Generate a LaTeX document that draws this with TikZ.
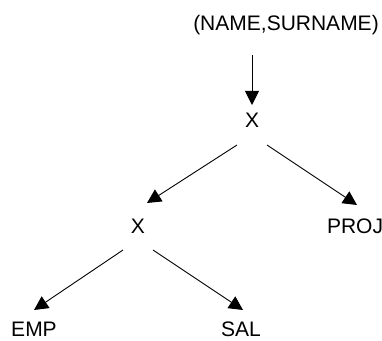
\documentclass[tikz,border=0pt]{standalone}
\usepackage{fontspec}
\setmainfont{Liberation Sans}
\usetikzlibrary{arrows.meta}
\begin{document}
\begin{tikzpicture}[x=1pt,y=1pt,
  lbl/.style={anchor=base,inner sep=0pt,font=\fontsize{21}{25}\selectfont},
  arr/.style={line width=0.9pt,-{Triangle[length=14pt,width=14pt]}}]
  \useasboundingbox (0,0) rectangle (382,340);
  % node labels
  \node[lbl] (proj0) at (286,309) {(NAME,SURNAME)};
  \node[lbl] (x1)    at (252,212) {X};
  \node[lbl] (x2)    at (138,107) {X};
  \node[lbl] (proj)  at (355,107) {PROJ};
  \node[lbl] (emp)   at (34,4)    {EMP};
  \node[lbl] (sal)   at (241,4)   {SAL};
  % connectors
  \draw[arr] ([xshift=-34pt,yshift=-24pt]proj0.base) -- ([yshift=23pt]x1.base);
  \draw[arr] ([xshift=-15pt,yshift=-17pt]x1.base) -- ([xshift=9pt,yshift=30pt]x2.base);
  \draw[arr] ([xshift=15pt,yshift=-17pt]x1.base) -- ([xshift=2pt,yshift=28pt]proj.base);
  \draw[arr] ([xshift=-15pt,yshift=-17pt]x2.base) -- ([yshift=26pt]emp.base);
  \draw[arr] ([xshift=15pt,yshift=-17pt]x2.base) -- ([xshift=2pt,yshift=26pt]sal.base);
\end{tikzpicture}
\end{document}
